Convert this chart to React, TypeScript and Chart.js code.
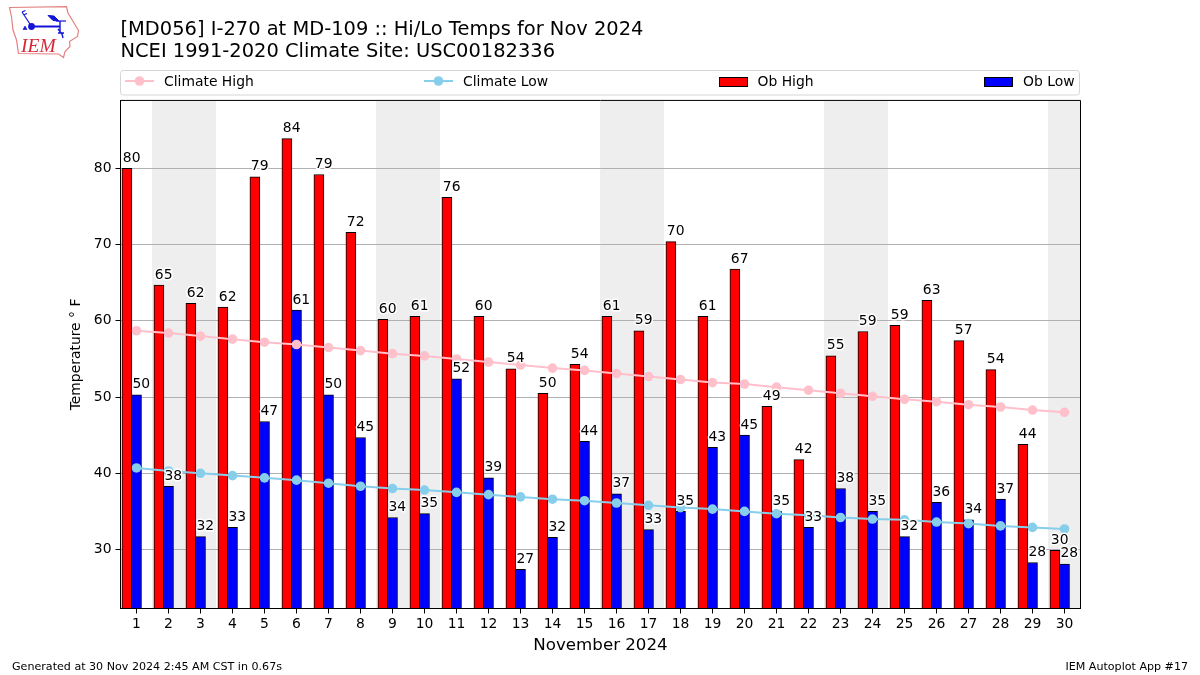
import React, { useEffect, useRef } from "react";
import { Chart, registerables } from "chart.js";

Chart.register(...registerables);

const FONT = "'DejaVu Sans'";

const days = [1,2,3,4,5,6,7,8,9,10,11,12,13,14,15,16,17,18,19,20,21,22,23,24,25,26,27,28,29,30];
const weekendDays = [2,3,9,10,16,17,23,24,30];
const yTicks = [30,40,50,60,70,80];

const obHigh = [80.0,64.7,62.3,61.8,78.9,83.9,79.2,71.6,60.2,60.6,76.2,60.6,53.7,50.5,54.3,60.6,58.7,70.4,60.6,66.8,48.8,41.8,55.4,58.6,59.4,62.7,57.4,53.6,43.8,29.9];
const obLow = [50.3,38.3,31.7,32.9,46.8,61.4,50.3,44.7,34.2,34.7,52.4,39.4,27.4,31.6,44.2,37.3,32.6,35.0,43.4,45.0,35.0,32.9,38.0,35.0,31.7,36.2,33.9,36.6,28.3,28.1];
const obHighLabels = [80,65,62,62,79,84,79,72,60,61,76,60,54,50,54,61,59,70,61,67,49,42,55,59,59,63,57,54,44,30];
const obLowLabels = [50,38,32,33,47,61,50,45,34,35,52,39,27,32,44,37,33,35,43,45,35,33,38,35,32,36,34,37,28,28];
const climateHigh = [58.7,58.4,58.0,57.6,57.2,56.9,56.5,56.1,55.7,55.4,55.0,54.6,54.2,53.8,53.5,53.1,52.7,52.3,51.9,51.7,51.3,50.9,50.5,50.1,49.7,49.4,49.0,48.7,48.3,48.0];
const climateLow = [40.7,40.3,40.0,39.7,39.4,39.1,38.7,38.3,38.0,37.8,37.5,37.2,36.9,36.6,36.4,36.1,35.8,35.5,35.3,35.0,34.7,34.5,34.2,34.0,33.9,33.6,33.4,33.1,32.9,32.7];

const titleLines = ["[MD056] I-270 at MD-109 :: Hi/Lo Temps for Nov 2024", "NCEI 1991-2020 Climate Site: USC00182336"];
const xTitle = "November 2024";
const yTitle = "Temperature ° F";
const footerLeft = "Generated at 30 Nov 2024 2:45 AM CST in 0.67s";
const footerRight = "IEM Autoplot App #17";

const weekendPlugin = {
  id: "weekends",
  beforeDraw(chart: any) {
    const { ctx, chartArea, scales } = chart;
    ctx.save();
    ctx.fillStyle = "#eeeeee";
    for (const d of weekendDays) {
      const x0 = Math.floor(scales.x.getPixelForValue(d - 0.5));
      const x1 = Math.min(Math.floor(scales.x.getPixelForValue(d + 0.5)), chartArea.right);
      ctx.fillRect(x0, chartArea.top, x1 - x0, chartArea.bottom - chartArea.top);
    }
    ctx.restore();
  },
};

const annotatePlugin = {
  id: "annotate",
  afterDatasetsDraw(chart: any) {
    const { ctx, chartArea, scales } = chart;
    ctx.save();
    ctx.font = `13.9px ${FONT}`;
    ctx.textAlign = "center";
    ctx.textBaseline = "alphabetic";
    ctx.lineJoin = "round";
    const put = (text: string, x: number, y: number) => {
      ctx.lineWidth = 3;
      ctx.strokeStyle = "#ffffff";
      ctx.strokeText(text, x, y);
      ctx.fillStyle = "#000000";
      ctx.fillText(text, x, y);
    };
    days.forEach((d, i) => {
      put(String(obHighLabels[i]), scales.x.getPixelForValue(d - 0.15), scales.y.getPixelForValue(obHigh[i]) - 6.5);
      put(String(obLowLabels[i]), scales.x.getPixelForValue(d + 0.15), scales.y.getPixelForValue(obLow[i]) - 6.5);
    });
    ctx.strokeStyle = "#000000";
    ctx.lineWidth = 1;
    ctx.strokeRect(chartArea.left, chartArea.top, chartArea.right - chartArea.left - 0.0, chartArea.bottom - chartArea.top);
    ctx.restore();
  },
  afterDraw(chart: any) {
    const { ctx } = chart;
    ctx.save();
    // legend frame
    ctx.beginPath();
    ctx.roundRect(120.5, 70.5, 959, 24.5, 3);
    ctx.fillStyle = "#ffffff";
    ctx.fill();
    ctx.strokeStyle = "#d5d5d5";
    ctx.lineWidth = 1;
    ctx.stroke();
    const entries = [
      { ds: 0, hx: 125, tx: 164 },
      { ds: 1, hx: 424, tx: 463 },
      { ds: 2, hx: 719, tx: 757.5 },
      { ds: 3, hx: 984, tx: 1023 },
    ];
    ctx.font = `13.9px ${FONT}`;
    ctx.textBaseline = "alphabetic";
    ctx.textAlign = "left";
    for (const e of entries) {
      const ds = chart.data.datasets[e.ds];
      if (ds.type === "line") {
        ctx.strokeStyle = ds.borderColor;
        ctx.lineWidth = 2;
        ctx.beginPath();
        ctx.moveTo(e.hx, 81);
        ctx.lineTo(e.hx + 29, 81);
        ctx.stroke();
        ctx.fillStyle = ds.borderColor;
        ctx.beginPath();
        ctx.arc(e.hx + 14.5, 81, 4.8, 0, Math.PI * 2);
        ctx.fill();
      } else {
        ctx.fillStyle = ds.backgroundColor;
        ctx.fillRect(e.hx + 0.5, 77.5, 28, 9);
        ctx.strokeStyle = "#000000";
        ctx.lineWidth = 1;
        ctx.strokeRect(e.hx + 0.5, 77.5, 28, 9);
      }
      ctx.fillStyle = "#000000";
      ctx.fillText(ds.label, e.tx, 86);
    }
    // footer
    ctx.font = `11.1px ${FONT}`;
    ctx.fillStyle = "#000000";
    ctx.textAlign = "left";
    ctx.fillText(footerLeft, 12, 670);
    ctx.textAlign = "right";
    ctx.fillText(footerRight, 1188, 670);
    ctx.restore();
  },
};

function Logo() {
  return (
    <svg width={90} height={65} viewBox="0 0 90 65" style={{ position: "absolute", left: 0, top: 0 }}>
      <path
        d="M9.5 7.5 L66.5 6.7 L68 13 L74 23 L78.5 30.5 L77.5 36.5 L69.5 41.5 L70 46.5 L65 51.5 L63.5 57.5 L58.5 54 L18.5 53.5 L16.5 40 L13 30 L11.5 17 Z"
        fill="none"
        stroke="#e58080"
        strokeWidth={1.2}
      />
      <g stroke="#1414d8" fill="#1414d8">
        <path d="M31.5 26.5 L60 26.5" strokeWidth={2} fill="none" />
        <circle cx={31.5} cy={26.5} r={3.4} stroke="none" />
        <path d="M30 24 L22 12 M22 12 L25.5 10.5 M23.5 15 L27 13.5" strokeWidth={1.2} fill="none" />
        <path d="M48 15.5 L54 16 L59 21 L53 20.5 Z" strokeWidth={1} />
        <path d="M56 21 L66 21" strokeWidth={1.2} fill="none" />
        <path d="M60 21 L60 33 M58 29 L62 34 L63 38 M58 33 L64 33" strokeWidth={1.4} fill="none" />
        <path d="M23 29.5 L25 26 L27 29.5 Z" strokeWidth={0.6} />
      </g>
      <text x={21} y={52} fontFamily="'Liberation Serif'" fontStyle="italic" fontSize={19.5} fill="#d62839">
        IEM
      </text>
    </svg>
  );
}

export default function App() {
  const ref = useRef<HTMLCanvasElement>(null);

  useEffect(() => {
    document.body.style.margin = "0";
    Chart.defaults.font.family = FONT;
    Chart.defaults.color = "#000000";
    const toPoints = (vals: number[], shift: number) => vals.map((y, i) => ({ x: days[i] + shift, y }));
    const lineDs = (label: string, vals: number[], color: string) => ({
      type: "line",
      label,
      data: toPoints(vals, 0),
      borderColor: color,
      backgroundColor: color,
      borderWidth: 2,
      pointRadius: 4.8,
      pointBorderWidth: 0,
      pointBackgroundColor: color,
      tension: 0,
      order: 0,
    });
    const barDs = (label: string, vals: number[], shift: number, color: string, order: number) => ({
      type: "bar",
      label,
      data: toPoints(vals, shift),
      backgroundColor: color,
      borderColor: "#000000",
      borderWidth: 1,
      barThickness: 10,
      grouped: false,
      order,
    });
    const chart = new Chart(ref.current!, {
      type: "bar",
      data: {
        datasets: [
          lineDs("Climate High", climateHigh, "#ffc0cb"),
          lineDs("Climate Low", climateLow, "#87ceeb"),
          barDs("Ob High", obHigh, -0.3, "#ff0000", 2),
          barDs("Ob Low", obLow, 0, "#0000ff", 1),
        ] as any,
      },
      plugins: [weekendPlugin, annotatePlugin],
      options: {
        animation: false,
        responsive: false,
        devicePixelRatio: 1,
        layout: { padding: { right: 119.5, left: 0, top: 0, bottom: 0 } },
        plugins: {
          legend: { display: false },
          tooltip: { enabled: false },
          title: {
            display: true,
            text: titleLines,
            align: "start",
            fullSize: false,
            color: "#000000",
            font: { size: 19.44, weight: "normal", lineHeight: 1.13 },
            padding: { top: 19, bottom: 37.5 },
          },
        },
        scales: {
          x: {
            type: "linear",
            min: 0.5,
            max: 30.5,
            offset: false,
            afterBuildTicks: (s: any) => {
              s.ticks = days.map((v) => ({ value: v }));
            },
            afterFit: (s: any) => {
              s.height = 66.5;
            },
            ticks: {
              autoSkip: false,
              maxRotation: 0,
              padding: 3,
              font: { size: 13.9 },
              color: "#000000",
              callback: (v: any) => String(v),
            },
            grid: { offset: false, drawOnChartArea: false, drawTicks: true, tickLength: 5, tickColor: "#000000", tickWidth: 1 },
            border: { color: "#000000", width: 1 },
            title: {
              display: true,
              text: xTitle,
              color: "#000000",
              font: { size: 16.67, lineHeight: 1.2 },
              padding: { top: 0, bottom: 19 },
            },
          },
          y: {
            type: "linear",
            min: 22.26,
            max: 88.92,
            afterBuildTicks: (s: any) => {
              s.ticks = yTicks.map((v) => ({ value: v }));
            },
            afterFit: (s: any) => {
              s.width = 120.5;
            },
            ticks: {
              padding: 4,
              font: { size: 13.9 },
              color: "#000000",
              callback: (v: any) => String(v),
            },
            grid: { color: "#b0b0b0", lineWidth: 1, tickLength: 5, tickColor: "#000000", tickWidth: 1 },
            border: { color: "#000000", width: 1 },
            title: {
              display: true,
              text: yTitle,
              color: "#000000",
              font: { size: 13.9, lineHeight: 1.2 },
              padding: { top: 68, bottom: 0 },
            },
          },
        },
      } as any,
    });
    return () => chart.destroy();
  }, []);

  return (
    <div style={{ position: "relative", width: 1200, height: 675 }}>
      <canvas ref={ref} width={1200} height={675} style={{ display: "block", width: 1200, height: 675 }} />
      <Logo />
    </div>
  );
}
